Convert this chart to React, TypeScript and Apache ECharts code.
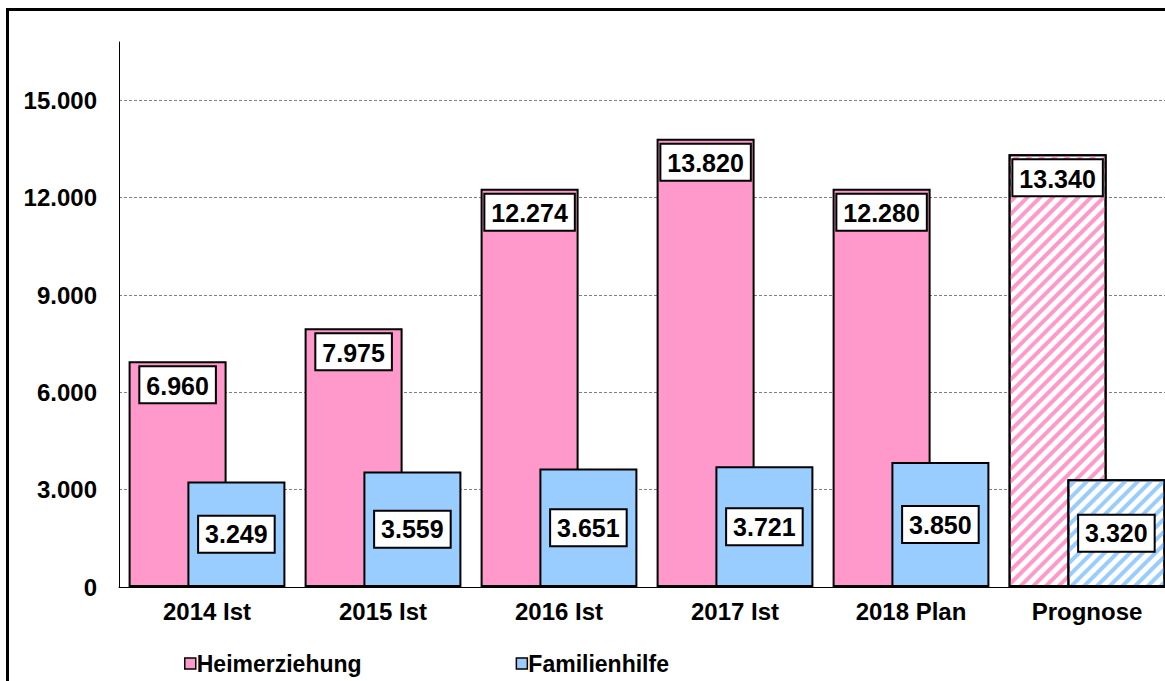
import React, { useEffect, useRef } from "react";
import * as echarts from "echarts";

const categories = ["2014 Ist", "2015 Ist", "2016 Ist", "2017 Ist", "2018 Plan", "Prognose"];
const heimerziehung = [6960, 7975, 12274, 13820, 12280, 13340];
const familienhilfe = [3249, 3559, 3651, 3721, 3850, 3320];
const seriesNames = ["Heimerziehung", "Familienhilfe"];
const forecastIndex = 5;

const PINK = "#FF99CC";
const BLUE = "#99CCFF";
const FONT = "'Liberation Sans', Arial, sans-serif";

const fmt = (v: number) => String(Math.round(v)).replace(/\B(?=(\d{3})+(?!\d))/g, ".");

function buildData(values: number[], color: string) {
  return values.map((v, i) =>
    i === forecastIndex
      ? {
          value: v,
          itemStyle: {
            color: "#ffffff",
            decal: {
              symbol: "rect",
              symbolSize: 1,
              color: color,
              backgroundColor: "#ffffff",
              dashArrayX: [1, 0],
              dashArrayY: [4, 5],
              rotation: -Math.PI / 4,
            },
          },
        }
      : v
  );
}

const labelBox = {
  show: true,
  formatter: (p: any) => fmt(p.value),
  fontFamily: FONT,
  fontSize: 25,
  fontWeight: "bold",
  color: "#000",
  backgroundColor: "#fff",
  borderColor: "#000",
  borderWidth: 2,
  padding: [4, 6, 2, 6],
  lineHeight: 29,
};

export default function App() {
  const ref = useRef<HTMLDivElement>(null);
  useEffect(() => {
    if (!ref.current) return;
    const chart = echarts.init(ref.current, null, { renderer: "svg" });
    chart.setOption({
      animation: false,
      backgroundColor: "transparent",
      grid: { left: 119, right: 10, top: 42, bottom: 94, containLabel: false },
      legend: {
        left: 179,
        top: 647,
        itemWidth: 11,
        itemHeight: 11,
        itemGap: 154,
        icon: "rect",
        itemStyle: { borderColor: "#000", borderWidth: 1.5 },
        textStyle: {
          fontFamily: FONT,
          fontSize: 23,
          fontWeight: "bold",
          color: "#000",
          padding: [0, 0, 0, -4],
        },
        data: seriesNames,
      },
      xAxis: {
        type: "category",
        data: categories,
        axisLine: { show: true, lineStyle: { color: "#000", width: 1 } },
        axisTick: { show: false },
        axisLabel: {
          fontFamily: FONT,
          fontSize: 24,
          fontWeight: "bold",
          color: "#000",
          margin: 12,
          interval: 0,
        },
        splitLine: { show: false },
      },
      yAxis: {
        type: "value",
        min: 0,
        max: 16800,
        interval: 3000,
        axisLine: { show: true, lineStyle: { color: "#000", width: 1 } },
        axisTick: { show: false },
        axisLabel: {
          fontFamily: FONT,
          fontSize: 24,
          fontWeight: "bold",
          color: "#000",
          margin: 22,
          showMaxLabel: false,
          formatter: (v: number) => fmt(v),
        },
        splitLine: {
          show: true,
          showMaxLine: false,
          showMinLine: false,
          lineStyle: { color: "#808080", width: 1, type: [3, 2] },
        },
      },
      series: [
        {
          name: seriesNames[0],
          type: "bar",
          data: buildData(heimerziehung, PINK),
          barWidth: 98,
          barGap: "-40%",
          itemStyle: { color: PINK, borderColor: "#000", borderWidth: 2 },
          label: { ...labelBox, position: "insideTop", distance: 6 },
          z: 2,
        },
        {
          name: seriesNames[1],
          type: "bar",
          data: buildData(familienhilfe, BLUE),
          barWidth: 98,
          barGap: "-40%",
          itemStyle: { color: BLUE, borderColor: "#000", borderWidth: 2 },
          label: { ...labelBox, position: "inside" },
          z: 3,
        },
      ],
    });
    return () => chart.dispose();
  }, []);

  return (
    <div
      style={{
        position: "fixed",
        left: 0,
        top: 0,
        width: 1165,
        height: 681,
        overflow: "hidden",
        background: "#fff",
      }}
    >
      <div
        style={{
          position: "absolute",
          left: 6,
          top: 8,
          width: 1300,
          height: 900,
          border: "3px solid #000",
          boxSizing: "border-box",
        }}
      />
      <div
        ref={ref}
        style={{ position: "absolute", left: 0, top: 0, width: 1185, height: 681 }}
      />
    </div>
  );
}
